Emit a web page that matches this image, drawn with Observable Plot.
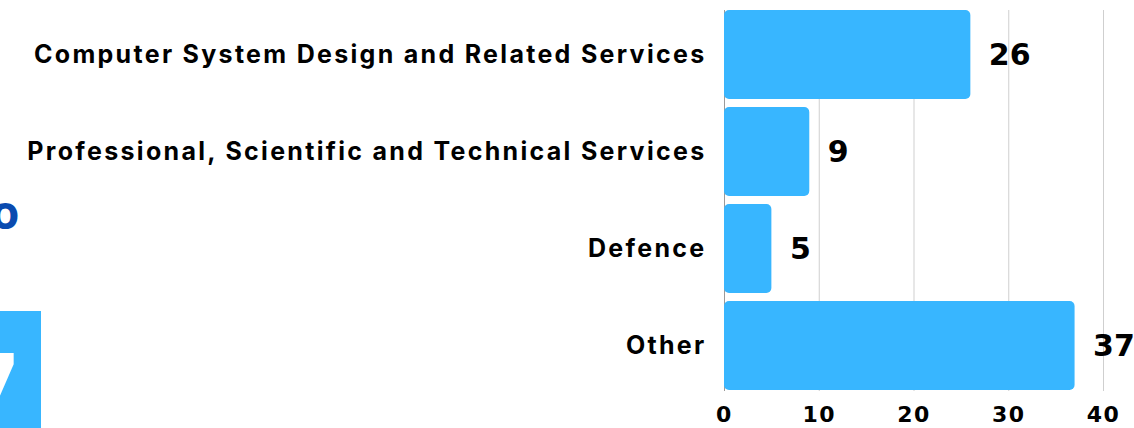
<!DOCTYPE html>
<html>
<head>
<meta charset="utf-8">
<script src="https://cdn.jsdelivr.net/npm/d3@7"></script>
<script src="https://cdn.jsdelivr.net/npm/@observablehq/plot@0.6"></script>
<style>
  html, body { margin: 0; padding: 0; background: #fff; }
  #wrap { position: relative; width: 1134px; height: 428px; overflow: hidden; }
  #chart { position: absolute; left: 0; top: 0; }
  #chart g[aria-label="y-axis tick label"] text { letter-spacing: 2.3px; }
  #chart g[aria-label="x-axis tick label"] text { letter-spacing: 1.5px; }
  .deco-o { position: absolute; left: -9px; top: 188px; font: 700 46px "Open Sans", sans-serif; color: #0a4bb0; line-height: 1; }
  .deco-box { position: absolute; left: 0; top: 311px; width: 41px; height: 117px; background: #38b6ff; overflow: hidden; }
  .deco-box span { position: absolute; left: -50px; top: 23px; font: 700 118px "Open Sans", sans-serif; color: #fff; line-height: 1; }
</style>
</head>
<body>
<div id="wrap">
  <div class="deco-o">o</div>
  <div class="deco-box"><span>7</span></div>
  <div id="chart"></div>
</div>
<script>
const categories = [
  "Computer System Design and Related Services",
  "Professional, Scientific and Technical Services",
  "Defence",
  "Other"
];
const values = [26, 9, 5, 37];
const xTicks = [0, 10, 20, 30, 40];

const data = categories.map((c, i) => ({category: c, value: values[i]}));

const chart = Plot.plot({
  width: 1134,
  height: 428,
  marginLeft: 724,
  marginRight: 31,
  marginTop: 10,
  marginBottom: 37,
  style: {background: "transparent"},
  x: {domain: [0, 40], ticks: xTicks},
  y: {domain: categories, padding: 0.08, paddingOuter: 0.0, align: 0.5},
  marks: [
    Plot.gridX(xTicks.slice(1), {stroke: "#cfcfcf", strokeOpacity: 1, strokeWidth: 1}),
    Plot.ruleX([0], {stroke: "#9a9a9a", strokeWidth: 1}),
    Plot.barX(data, {x: "value", y: "category", fill: "#38b6ff", rx: 5}),
    Plot.text(data, {x: "value", y: "category", text: d => String(d.value), textAnchor: "start", dx: 18,
      fontSize: 30, fontWeight: 700, fill: "#000", fontFamily: "DejaVu Sans"}),
    Plot.axisY({tickSize: 0, tickPadding: 18, fontSize: 25, fontWeight: 700, fill: "#000",
      fontFamily: "Inter", label: null}),
    Plot.axisX(xTicks, {tickSize: 0, tickPadding: 15, fontSize: 22, fontWeight: 700, fill: "#000",
      fontFamily: "DejaVu Sans", label: null})
  ]
});
document.getElementById("chart").appendChild(chart);
</script>
</body>
</html>
